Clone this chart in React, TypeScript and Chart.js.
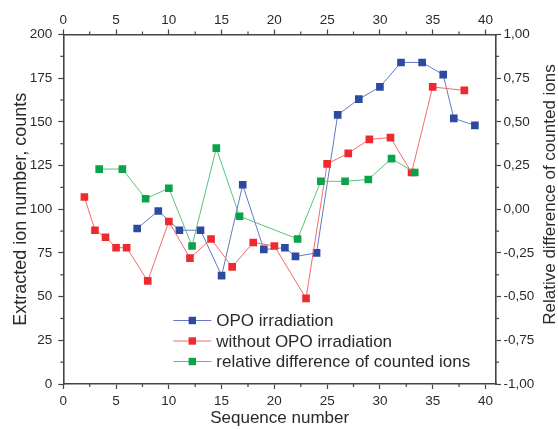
import React, { useEffect, useRef } from 'react';
import { Chart, registerables } from 'chart.js';
Chart.register(...registerables);

const FONT = '"Liberation Sans", Arial, Helvetica, sans-serif';

const blueX = [7, 9, 11, 13, 15, 17, 19, 21, 22, 24, 26, 28, 30, 32, 34, 36, 37, 39];
const blueY = [89, 99, 88, 88, 62, 114, 77, 78, 73, 75, 154, 163, 170, 184, 184, 177, 152, 148];
const redX = [2, 3, 4, 5, 6, 8, 10, 12, 14, 16, 18, 20, 23, 25, 27, 29, 31, 33, 35, 38];
const redY = [107, 88, 84, 78, 78, 59, 93, 72, 83, 67, 81, 79, 49, 126, 132, 140, 141, 121, 170, 168];
const greenX = [3.4, 5.6, 7.8, 10.0, 12.2, 14.5, 16.7, 22.2, 24.4, 26.7, 28.9, 31.1, 33.3];
const greenY = [0.23, 0.23, 0.06, 0.12, -0.21, 0.35, -0.04, -0.17, 0.16, 0.16, 0.17, 0.29, 0.21];

const seriesLabels = ['OPO irradiation', 'without OPO irradiation', 'relative difference of counted ions'];
const xTitle = 'Sequence number';
const yTitle = 'Extracted ion number, counts';
const y1Title = 'Relative difference of counted ions';

const pointColors = ['#2c4aa0', '#ee2a2e', '#0aa24a'];
const lineColors = ['#6679c6', '#f26a6a', '#5cc07c'];

const AXIS = '#444';
const TEXT = '#2a2a2a';

const zip = (xs: number[], ys: number[]) => xs.map((x, i) => ({ x, y: ys[i] }));

const minorTicks = {
  id: 'minorTicks',
  afterDraw(chart: any) {
    const { ctx, chartArea, scales } = chart;
    ctx.save();
    ctx.strokeStyle = AXIS;
    ctx.lineWidth = 1.2;
    const len = 3;
    const draw = (x1: number, y1: number, x2: number, y2: number) => {
      ctx.beginPath(); ctx.moveTo(x1, y1); ctx.lineTo(x2, y2); ctx.stroke();
    };
    for (let v = 2.5; v < 41; v += 5) {
      const px = scales.x.getPixelForValue(v);
      draw(px, chartArea.bottom, px, chartArea.bottom + len);
      const px2 = scales.x2.getPixelForValue(v);
      draw(px2, chartArea.top, px2, chartArea.top - len);
    }
    for (let v = 12.5; v < 200; v += 25) {
      const py = scales.y.getPixelForValue(v);
      draw(chartArea.left, py, chartArea.left - len, py);
    }
    for (let v = -0.875; v < 1; v += 0.25) {
      const py = scales.y1.getPixelForValue(v);
      draw(chartArea.right, py, chartArea.right + len, py);
    }
    ctx.restore();
  },
};

const extras = {
  id: 'extras',
  afterDraw(chart: any) {
    const { ctx, chartArea } = chart;
    ctx.save();
    // right axis title (reads bottom to top)
    ctx.font = `17px ${FONT}`;
    ctx.fillStyle = TEXT;
    ctx.textAlign = 'center';
    ctx.textBaseline = 'middle';
    ctx.translate(chart.width - 8, chartArea.top + 160);
    ctx.rotate(-Math.PI / 2);
    ctx.fillText(y1Title, 0, 0);
    ctx.restore();

    // legend
    ctx.save();
    const lx = chartArea.left + 110;
    const rows = [320.5, 341, 361.5];
    ctx.font = `17px ${FONT}`;
    ctx.textAlign = 'left';
    ctx.textBaseline = 'middle';
    seriesLabels.forEach((lab, i) => {
      const y = rows[i];
      ctx.strokeStyle = lineColors[i];
      ctx.lineWidth = 1;
      ctx.beginPath(); ctx.moveTo(lx, y); ctx.lineTo(lx + 38, y); ctx.stroke();
      ctx.fillStyle = pointColors[i];
      ctx.fillRect(lx + 19 - 3.7, y - 3.7, 7.4, 7.4);
      ctx.fillStyle = TEXT;
      ctx.fillText(lab, lx + 43, y + 1);
    });
    ctx.restore();
  },
};

export default function App() {
  const ref = useRef<HTMLCanvasElement | null>(null);
  useEffect(() => {
    if (!ref.current) return;
    Chart.defaults.font.family = FONT;
    const tickFont = { family: FONT, size: 13.5 };
    const grid = { drawOnChartArea: false, drawTicks: true, tickLength: 5, tickColor: AXIS, tickWidth: 1.2 };
    const border = { color: AXIS, width: 1.6 };
    const ds = (i: number, data: any[], yAxisID: string, order: number) => ({
      label: seriesLabels[i],
      data,
      yAxisID,
      xAxisID: 'x',
      order,
      borderColor: lineColors[i],
      borderWidth: 1,
      backgroundColor: pointColors[i],
      pointBackgroundColor: pointColors[i],
      pointBorderColor: pointColors[i],
      pointBorderWidth: 0,
      pointStyle: 'rect',
      pointRadius: 5.4,
      tension: 0,
      fill: false,
    });
    const chart = new Chart(ref.current, {
      type: 'line',
      data: {
        datasets: [
          ds(0, zip(blueX, blueY), 'y', 3),
          ds(1, zip(redX, redY), 'y', 2),
          ds(2, zip(greenX, greenY), 'y1', 1),
        ],
      },
      options: {
        responsive: false,
        animation: false,
        layout: { padding: 0 },
        plugins: { legend: { display: false }, tooltip: { enabled: false } },
        scales: {
          x: {
            type: 'linear', position: 'bottom', min: 0, max: 41,
            ticks: { stepSize: 5, includeBounds: false, font: tickFont, color: TEXT, padding: 4.5, maxRotation: 0 },
            grid, border,
            title: { display: true, text: xTitle, font: { family: FONT, size: 17 }, color: TEXT, padding: { top: 0, bottom: 0 } },
            afterFit: (s: any) => { s.height = 45; },
          },
          x2: {
            type: 'linear', position: 'top', min: 0, max: 41,
            ticks: { stepSize: 5, includeBounds: false, font: tickFont, color: TEXT, padding: 1.5, maxRotation: 0 },
            grid, border,
            afterFit: (s: any) => { s.height = 34.5; },
          },
          y: {
            type: 'linear', position: 'left', min: 0, max: 200,
            ticks: { stepSize: 25, font: tickFont, color: TEXT, padding: 6 },
            grid, border,
            title: { display: true, text: yTitle, font: { family: FONT, size: 18 }, color: TEXT, padding: { top: 10, bottom: 0 } },
            afterFit: (s: any) => { s.width = 63.3; },
          },
          y1: {
            type: 'linear', position: 'right', min: -1, max: 1,
            ticks: {
              stepSize: 0.25, font: tickFont, color: TEXT, padding: 2.5,
              callback: (v: any) => Number(v).toFixed(2).replace('.', ','),
            },
            grid, border,
            afterFit: (s: any) => { s.width = 62; },
          },
        },
      } as any,
      plugins: [minorTicks, extras],
    });
    return () => chart.destroy();
  }, []);
  return (
    <div style={{ position: 'fixed', left: 0, top: 0, width: 558, height: 429, background: '#fff' }}>
      <canvas ref={ref} width={558} height={429} style={{ display: 'block' }} />
    </div>
  );
}
